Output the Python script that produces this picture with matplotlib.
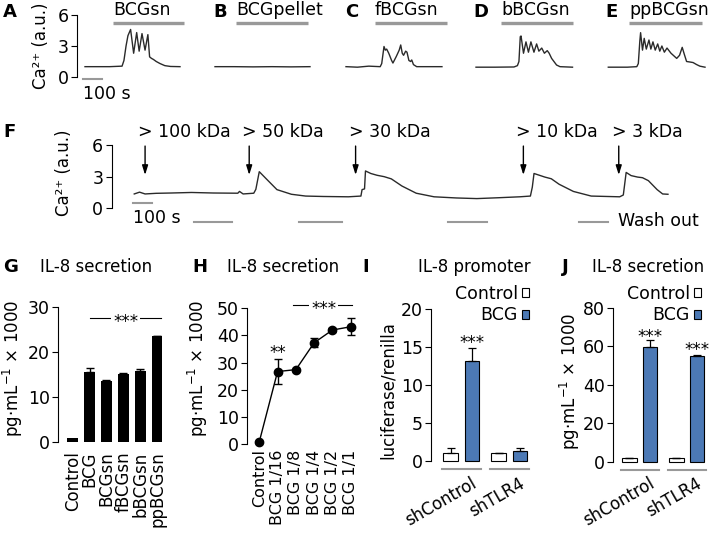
import numpy as np
import matplotlib
matplotlib.use('Agg')
import matplotlib.pyplot as plt
from matplotlib.patches import Patch
from matplotlib.transforms import ScaledTranslation

W, H = 709, 533
plt.rcParams['font.family'] = 'DejaVu Sans'
plt.rcParams['font.size'] = 12
plt.rcParams['axes.linewidth'] = 0.8

BLUE = '#4c79b5'
GREY = '#999999'
TRACE = '#2a2a2a'

# ---- A-E: Ca2+ traces (time in s, Ca2+ in a.u.) ----
ae_titles = ['BCGsn', 'BCGpellet', 'fBCGsn', 'bBCGsn', 'ppBCGsn']
ae_letters = ['A', 'B', 'C', 'D', 'E']
ae_bar_start = [147, 110, 153, 131, 109]
ae_bar_end = [521, 489, 531, 510, 493]

a_t = [0, 130, 195, 205, 216, 226, 240, 256, 272, 285, 300, 316, 331, 340, 350, 360, 375, 395, 420, 450, 500]
a_v = [1.0, 1.0, 1.05, 1.6, 3.0, 4.0, 4.6, 2.3, 4.3, 2.5, 4.2, 2.6, 4.1, 1.95, 1.8, 1.7, 1.5, 1.3, 1.1, 1.02, 1.0]
b_t = [0, 100, 200, 300, 400, 500]
b_v = [1.0, 1.0, 0.98, 1.0, 0.98, 1.0]
c_t = [0, 60, 120, 180, 188, 200, 207, 214, 225, 240, 247, 265, 280, 288, 296, 303, 314, 321, 331, 340, 346, 355, 372, 440, 505]
c_v = [1.0, 0.95, 1.05, 1.0, 1.3, 2.95, 2.6, 2.7, 2.3, 1.6, 1.35, 2.0, 2.6, 3.1, 2.3, 2.1, 2.5, 2.4, 1.6, 1.5, 1.65, 1.2, 1.0, 1.0, 1.0]
d_t = [0, 100, 200, 218, 226, 233, 237, 250, 263, 276, 289, 305, 319, 331, 346, 360, 375, 385, 398, 424, 442, 508]
d_v = [0.95, 0.95, 0.97, 1.1, 1.5, 3.9, 3.97, 2.3, 3.4, 2.4, 3.4, 2.4, 3.2, 2.5, 2.8, 2.3, 2.55, 2.3, 1.8, 1.16, 1.0, 0.95]
e_t = [0, 100, 150, 158, 166, 170, 180, 189, 200, 214, 224, 235, 247, 260, 271, 282, 295, 309, 330, 360, 375, 389, 400, 412, 430, 446, 465, 482, 509]
e_v = [0.95, 0.95, 1.0, 1.3, 3.5, 4.29, 2.6, 3.74, 2.7, 3.58, 2.7, 3.4, 2.6, 3.2, 2.5, 3.0, 2.4, 2.8, 2.3, 1.8, 2.1, 2.87, 2.2, 1.5, 1.45, 1.4, 1.2, 1.05, 0.95]
ae_traces = [(a_t, a_v), (b_t, b_v), (c_t, c_v), (d_t, d_v), (e_t, e_v)]

# ---- F: sequential fractions ----
f_t = [5, 33, 62, 120, 200, 306, 420, 550, 559, 578, 634, 645, 663, 700, 756, 832, 907, 1000,
       1132, 1198, 1204, 1217, 1222, 1250, 1283, 1320, 1358, 1414, 1489, 1583, 1700, 1808, 1920,
       2034, 2090, 2100, 2109, 2166, 2200, 2241, 2316, 2410, 2560, 2579, 2594, 2620, 2654, 2680,
       2711, 2757, 2786, 2814]
f_v = [1.36, 1.53, 1.36, 1.42, 1.45, 1.50, 1.45, 1.43, 1.60, 1.36, 1.43, 1.8, 3.47, 2.79, 1.77, 1.33, 1.16, 1.12,
       1.09, 1.16, 1.77, 1.84, 3.54, 3.3, 3.13, 3.0, 2.79, 2.11, 1.43, 1.09, 0.98, 0.92, 1.0,
       1.09, 1.16, 2.0, 3.30, 2.96, 2.8, 2.28, 1.60, 1.16, 1.09, 1.26, 3.40, 3.1, 2.96, 2.9,
       2.62, 1.77, 1.36, 1.33]
f_arrow_t = [62, 610, 1170, 2053, 2555]
f_arrow_lab = ['> 100 kDa', '> 50 kDa', '> 30 kDa', '> 10 kDa', '> 3 kDa']
f_wash = [(319, 519), (870, 1096), (1654, 1859), (2345, 2497)]

# ---- G ----
g_labels = ['Control', 'BCG', 'BCGsn', 'fBCGsn', 'bBCGsn', 'ppBCGsn']
g_vals = [0.8, 15.6, 13.5, 15.1, 15.9, 23.5]
g_err = [0.0, 0.8, 0.4, 0.3, 0.3, 0.2]

# ---- H ----
h_labels = ['Control', 'BCG 1/16', 'BCG 1/8', 'BCG 1/4', 'BCG 1/2', 'BCG 1/1']
h_vals = [0.85, 26.7, 27.4, 37.3, 42.0, 43.2]
h_err = [0.3, 4.7, 0.4, 1.6, 0.8, 3.2]

# ---- I, J ----
groups = ['shControl', 'shTLR4']
i_ctrl = [1.05, 0.97]
i_ctrl_err = [0.6, 0.05]
i_bcg = [13.1, 1.23]
i_bcg_err = [1.8, 0.45]
j_ctrl = [1.9, 1.7]
j_ctrl_err = [0.0, 0.0]
j_bcg = [59.4, 54.8]
j_bcg_err = [3.8, 0.5]

fig = plt.figure(figsize=(W / 100, H / 100), dpi=100)


def fx(x):
    return x / W


def fy(y):
    return 1 - y / H


def lim(p0, p1, a_px, a_val, b_px, b_val):
    s = (b_val - a_val) / (b_px - a_px)
    return a_val + (p0 - a_px) * s, a_val + (p1 - a_px) * s


def make_axes(box, xcal, ycal):
    x0, x1, y0, y1 = box
    ax = fig.add_axes([x0 / W, 1 - y1 / H, (x1 - x0) / W, (y1 - y0) / H])
    ax.set_xlim(*lim(x0, x1, *xcal))
    ax.set_ylim(*lim(y1, y0, *ycal))
    for s in ax.spines.values():
        s.set_visible(False)
    ax.set_xticks([])
    ax.set_yticks([])
    ax.patch.set_alpha(0)
    return ax


def left_axis(ax, ticks):
    ax.spines['left'].set_visible(True)
    ax.spines['left'].set_bounds(ticks[0], ticks[-1])
    ax.set_yticks(ticks)
    ax.tick_params(axis='y', length=4, width=0.8, pad=2, labelsize=12.5)


def label(x, y, s, **kw):
    kw.setdefault('va', 'center')
    fig.text(fx(x), fy(y), s, **kw)


YLAB_PG = 'pg·mL$^{-1}$ × 1000'
CA_LAB = 'Ca²⁺ (a.u.)'

# ================= A-E =================
starts = [85, 215, 346, 476, 608.3]
letter_x = [3, 213, 345, 473, 605]
for k in range(5):
    x0 = starts[k]
    ax = make_axes((x0 - 8, x0 + 122, 0, 100), (x0, 0, x0 + 19, 100), (77, 0, 15, 6))
    t, v = ae_traces[k]
    ax.plot(t, v, color=TRACE, lw=1.0, clip_on=False)
    ax.plot([ae_bar_start[k], ae_bar_end[k]], [5.23, 5.23], color=GREY, lw=2.4,
            solid_capstyle='butt', clip_on=False)
    ax.text(ae_bar_start[k], 6.5, ae_titles[k], ha='left', va='center', fontsize=12.5)
    label(letter_x[k], 12, ae_letters[k], ha='left', fontweight='bold', fontsize=13)
    if k == 0:
        left_axis(ax, [0, 3, 6])
        ax.plot([-10.5, 89.5], [-0.19, -0.19], color=GREY, lw=1.5, clip_on=False)
        ax.text(-10.5, -1.6, '100 s', ha='left', va='center', fontsize=12.5)

label(41, 46, CA_LAB, rotation=90, ha='center', fontsize=12)

# ================= F =================
axf = make_axes((111.7, 690, 120, 232), (133.3, 0, 152.3, 100), (208.3, 0, 145, 6))
left_axis(axf, [0, 3, 6])
axf.plot(f_t, f_v, color=TRACE, lw=1.0, clip_on=False)
for t, lab in zip(f_arrow_t, f_arrow_lab):
    axf.annotate('', xy=(t, 3.16), xytext=(t, 5.9),
                 arrowprops=dict(arrowstyle='-|>,head_length=0.8,head_width=0.25',
                                 color='black', lw=1.0, mutation_scale=7,
                                 shrinkA=0, shrinkB=0))
    axf.annotate(lab, (t, 7.26), xytext=(-7, 0), textcoords='offset pixels',
                 ha='left', va='center', fontsize=12.5)
for a, b in f_wash:
    axf.plot([a, b], [-1.27, -1.27], color=GREY, lw=1.5, clip_on=False)
axf.plot([-3, 97], [0.53, 0.53], color=GREY, lw=1.5, clip_on=False)
label(133, 218, '100 s', ha='left', fontsize=12.5)
label(618, 221, 'Wash out', ha='left', fontsize=12.5)
label(3, 131.7, 'F', ha='left', fontweight='bold', fontsize=13)
label(64, 173, CA_LAB, rotation=90, ha='center')

# ================= G =================
axg = make_axes((58.3, 168, 300, 450), (72.7, 0, 157, 5), (442, 0, 307.3, 30))
left_axis(axg, [0, 10, 20, 30])
xg = np.arange(len(g_vals))
axg.bar(xg, g_vals, width=0.65, color='black')
axg.errorbar(xg[1:], g_vals[1:], yerr=[np.zeros(5), g_err[1:]], fmt='none',
             ecolor='black', elinewidth=1, capsize=3, capthick=1)
axg.set_xticks(xg)
axg.set_xticklabels(g_labels, rotation=90, fontsize=12)
axg.tick_params(axis='x', length=0, pad=1)
axg.plot([1.05, 5.25], [27.6, 27.6], color='black', lw=0.8, clip_on=False)
axg.annotate('***', (3.15, 27.6), xytext=(0, -4), textcoords='offset pixels', ha='center',
             va='center', fontsize=12, bbox=dict(fc='white', ec='none', pad=1.5))
label(3, 266.7, 'G', ha='left', fontweight='bold', fontsize=13)
label(40, 266.7, 'IL-8 secretion', ha='left')
label(13, 368, YLAB_PG, rotation=90, ha='center')

# ================= H =================
axh = make_axes((247.3, 360, 300, 448), (259.3, 0, 350.7, 5), (444, 0, 308.3, 50))
left_axis(axh, [0, 10, 20, 30, 40, 50])
xh = np.arange(len(h_vals))
axh.errorbar(xh, h_vals, yerr=h_err, fmt='-o', color='black', ms=6, lw=1,
             elinewidth=1, capsize=3, capthick=1, clip_on=False)
axh.set_xticks(xh)
axh.set_xticklabels(h_labels, rotation=90, fontsize=11.5)
axh.tick_params(axis='x', length=0, pad=1)
axh.annotate('**', (1, 35), xytext=(0, -4), textcoords='offset pixels', ha='center',
             va='center', fontsize=12)
axh.plot([1.86, 5.05], [51.2, 51.2], color='black', lw=0.8, clip_on=False)
axh.annotate('***', (3.52, 51.2), xytext=(0, -4), textcoords='offset pixels', ha='center',
             va='center', fontsize=12, bbox=dict(fc='white', ec='none', pad=1.5))
label(192, 266.7, 'H', ha='left', fontweight='bold', fontsize=13)
label(227.3, 266.7, 'IL-8 secretion', ha='left')
label(198, 368, YLAB_PG, rotation=90, ha='center')


# ================= I & J =================
def group_panel(ax, ticks, ctrl, ctrl_err, bcg, bcg_err, off, under_y, stars, legend_xy):
    left_axis(ax, ticks)
    xg2 = np.arange(len(groups))
    w = 0.30
    ax.bar(xg2 - off, ctrl, width=w, color='white', edgecolor='black', lw=0.8)
    ax.bar(xg2 + off, bcg, width=w, color=BLUE, edgecolor='black', lw=0.8)
    ax.errorbar(xg2 - off, ctrl, yerr=[np.zeros(2), ctrl_err], fmt='none',
                ecolor='black', elinewidth=0.9, capsize=3, capthick=0.9)
    ax.errorbar(xg2 + off, bcg, yerr=[np.zeros(2), bcg_err], fmt='none',
                ecolor='black', elinewidth=0.9, capsize=3, capthick=0.9)
    for g in xg2:
        ax.plot([g - 0.41, g + 0.41], [under_y, under_y], color=GREY, lw=1.5, clip_on=False)
    for g, sy in stars:
        ax.annotate('***', (g + off, sy), xytext=(0, -4), textcoords='offset pixels',
                    ha='center', va='center', fontsize=12)
    ax.set_xticks(xg2)
    ax.set_xticklabels(groups, rotation=30, ha='right', rotation_mode='anchor', fontsize=12)
    ax.tick_params(axis='x', length=0, pad=1)
    for tl in ax.get_xticklabels():
        tl.set_transform(tl.get_transform() + ScaledTranslation(0.09, 0, fig.dpi_scale_trans))
    handles = [Patch(facecolor='white', edgecolor='black', lw=0.8),
               Patch(facecolor=BLUE, edgecolor='black', lw=0.8)]
    ax.legend(handles, ['Control', 'BCG'], loc='upper right',
              bbox_to_anchor=(fx(legend_xy[0]), fy(legend_xy[1])),
              bbox_transform=fig.transFigure, frameon=False, markerfirst=False,
              handlelength=0.4, handleheight=0.45, handletextpad=0.25,
              labelspacing=0.2, borderpad=0, borderaxespad=0, fontsize=12.5)


axi = make_axes((431, 535, 300, 473), (461.3, 0, 509.3, 1), (460.7, 0, 309, 20))
group_panel(axi, [0, 5, 10, 15, 20], i_ctrl, i_ctrl_err, i_bcg, i_bcg_err, 0.225,
            -1.13, [(0, 16.1)], (529, 285))
label(362, 266.7, 'I', ha='left', fontweight='bold', fontsize=13)
label(418.3, 266.7, 'IL-8 promoter', ha='left')
label(388.3, 390, 'luciferase/renilla', rotation=90, ha='center')

axj = make_axes((613.3, 709, 300, 473), (639.8, 0, 686.8, 1), (461.7, 0, 307.7, 80))
group_panel(axj, [0, 20, 40, 60, 80], j_ctrl, j_ctrl_err, j_bcg, j_bcg_err, 0.22,
            -4.3, [(0, 67), (1, 60)], (701, 285))
label(561.7, 266.7, 'J', ha='left', fontweight='bold', fontsize=13)
label(591.7, 266.7, 'IL-8 secretion', ha='left')
label(570, 381.7, YLAB_PG, rotation=90, ha='center')

fig.savefig('out.png', dpi=100)
